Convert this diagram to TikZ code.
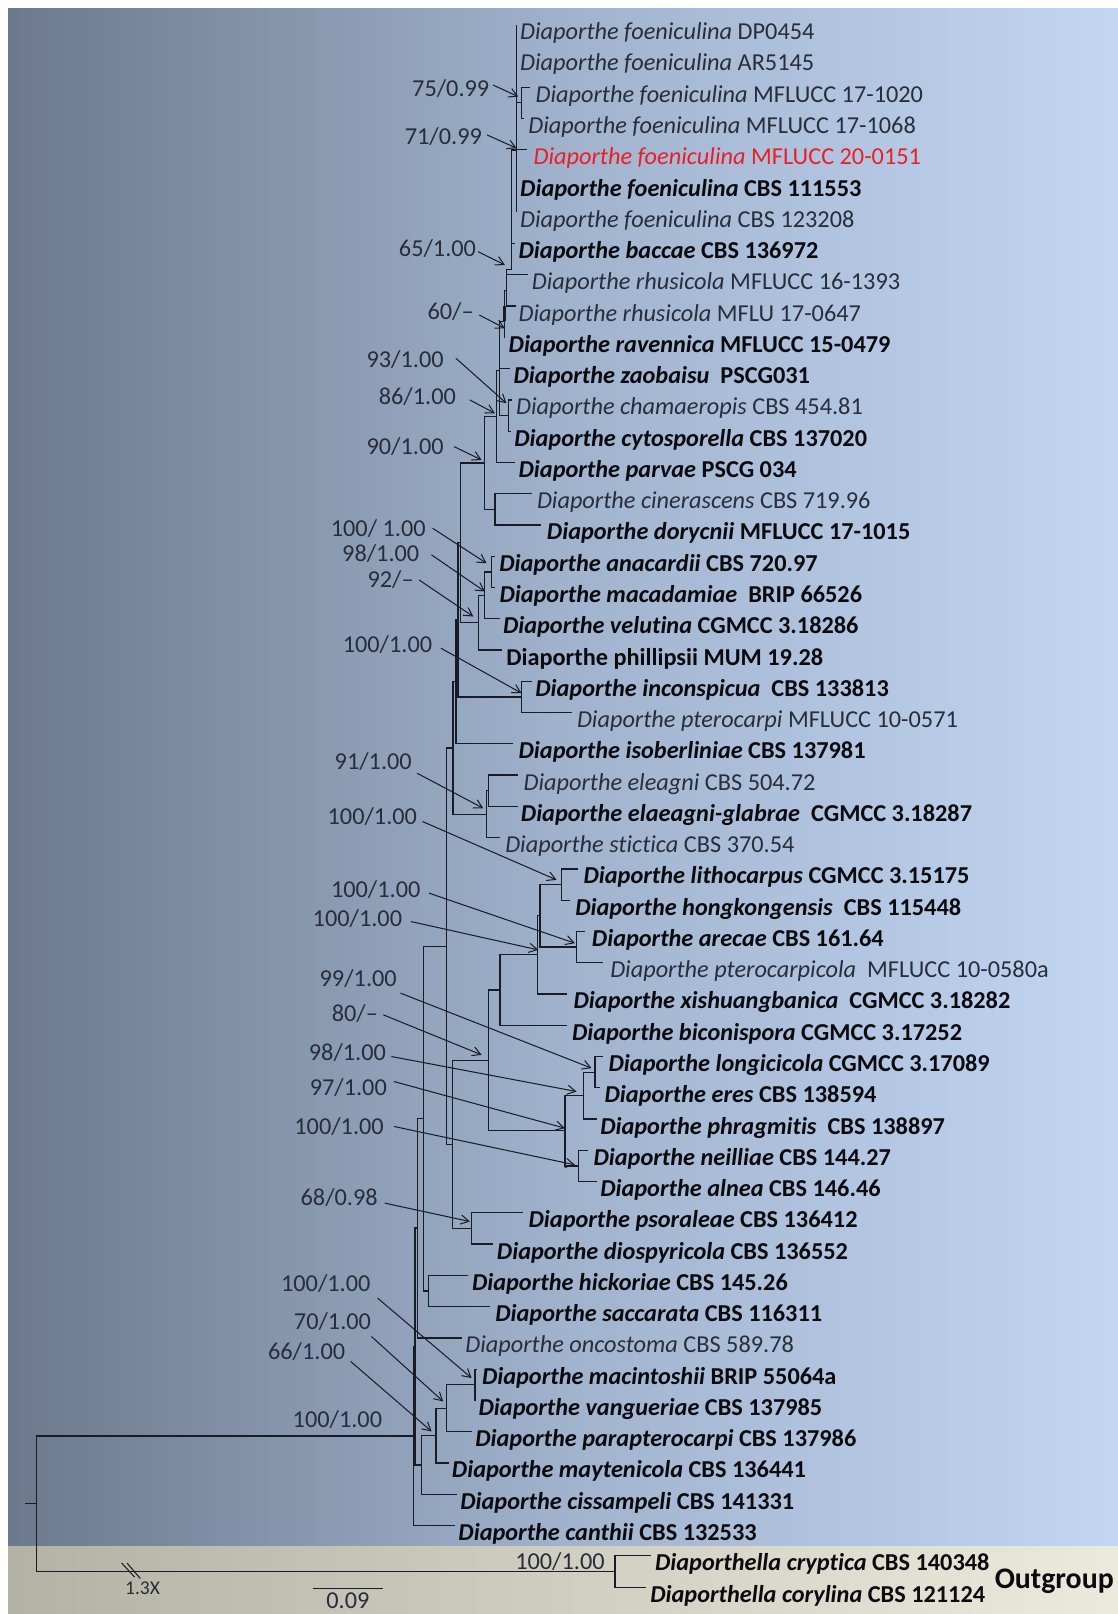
\documentclass[tikz,border=0pt]{standalone}
\usepackage{fontspec}
\setmainfont[Ligatures={NoCommon}]{Carlito}
\usetikzlibrary{arrows.meta,calc}
\definecolor{bgL}{RGB}{108,121,141}
\definecolor{bgM}{RGB}{160,178,204}
\definecolor{bgR}{RGB}{195,214,242}
\definecolor{bandL}{RGB}{180,177,165}
\definecolor{bandR}{RGB}{236,233,221}
\definecolor{lineC}{RGB}{25,28,38}
\definecolor{txtN}{RGB}{40,45,60}
\definecolor{txtB}{RGB}{10,10,15}
\definecolor{redT}{RGB}{235,30,40}
\newcommand\lf[6]{\coordinate (#1) at (#2,#3);\node[#5] (#1t) at (#4,#3+14.6) {#6};}
\newcommand\Dp[1]{\textit{Diaporthe #1}}
\begin{document}
\begin{tikzpicture}[x=0.5pt,y=-0.5pt,
  branch/.style={draw=lineC,line width=0.6pt},
  arr/.style={draw=lineC,line width=0.5pt,-{Straight Barb[length=4pt,width=4.5pt]}},
  leaf/.style={anchor=base west,inner sep=0pt,font=\fontsize{11.8}{14}\selectfont,text=txtN},
  leafb/.style={leaf,font=\fontsize{11.8}{14}\selectfont\bfseries,text=txtB},
  leafr/.style={leaf,text=redT},
  lab/.style={inner sep=0pt,font=\fontsize{11.8}{14}\selectfont,text=txtN,text height=7.6pt,text depth=0pt}]
\useasboundingbox (0,0) rectangle (1086,1568);
\begin{scope}
\clip (0,0) rectangle (1086,1568);
\fill[white] (0,0) rectangle (1086,1568);
\shade[left color=bgL,right color=bgM] (8,8) rectangle (545,1502);
\shade[left color=bgM,right color=bgR] (544.5,8) rectangle (1086,1502);
\shade[left color=bandL,right color=bandR] (8,1502) rectangle (1086,1568);

% ---------- leaves ----------
\lf{l1}{502}{24}{505}{leaf}{\Dp{foeniculina} DP0454}
\lf{l2}{502}{54.375}{505}{leaf}{\Dp{foeniculina} AR5145}
\lf{l3}{515}{84.75}{520}{leaf}{\Dp{foeniculina} MFLUCC 17-1020}
\lf{l4}{509}{115.125}{513}{leaf}{\Dp{foeniculina} MFLUCC 17-1068}
\lf{l5}{512}{145.5}{518}{leafr}{\Dp{foeniculina} MFLUCC 20-0151}
\lf{l6}{502}{175.875}{505}{leafb}{\Dp{foeniculina} CBS 111553}
\lf{l7}{502}{206.25}{505}{leaf}{\Dp{foeniculina} CBS 123208}
\lf{l8}{500}{236.625}{503.5}{leafb}{\Dp{baccae} CBS 136972}
\lf{l9}{513}{267}{516.4}{leaf}{\Dp{rhusicola} MFLUCC 16-1393}
\lf{l10}{501}{297.375}{503.5}{leaf}{\Dp{rhusicola} MFLU 17-0647}
\lf{l11}{491}{327.75}{493.8}{leafb}{\Dp{ravennica} MFLUCC 15-0479}
\lf{l12}{495}{358.125}{498.6}{leafb}{\Dp{zaobaisu}\ \ PSCG031}
\lf{l13}{497}{388.5}{501}{leaf}{\Dp{chamaeropis} CBS 454.81}
\lf{l14}{496}{418.875}{499.3}{leafb}{\Dp{cytosporella} CBS 137020}
\lf{l15}{500}{449.25}{503.5}{leafb}{\Dp{parvae} PSCG 034}
\lf{l16}{516.4}{479.625}{521.3}{leaf}{\Dp{cinerascens} CBS 719.96}
\lf{l17}{526}{510}{531}{leafb}{\Dp{dorycnii} MFLUCC 17-1015}
\lf{l18}{481}{540.375}{484.7}{leafb}{\Dp{anacardii} CBS 720.97}
\lf{l19}{481}{570.75}{484.9}{leafb}{\Dp{macadamiae}\ \ BRIP 66526}
\lf{l20}{485.7}{601.125}{488.3}{leafb}{\Dp{velutina} CGMCC 3.18286}
\lf{l21}{487.5}{631.5}{491.5}{leafb}{Diaporthe phillipsii MUM 19.28}
\lf{l22}{517}{661.875}{519.7}{leafb}{\Dp{inconspicua}\ \ CBS 133813}
\lf{l23}{555.3}{692.25}{560.2}{leaf}{\Dp{pterocarpi} MFLUCC 10-0571}
\lf{l24}{498.6}{722.625}{503.5}{leafb}{\Dp{isoberliniae} CBS 137981}
\lf{l25}{503.5}{753}{508.3}{leaf}{\Dp{eleagni} CBS 504.72}
\lf{l26}{503.5}{783.375}{505.7}{leafb}{\Dp{elaeagni-glabrae}\ \ CGMCC 3.18287}
\lf{l27}{485.7}{813.75}{490.5}{leaf}{\Dp{stictica} CBS 370.54}
\lf{l28}{561.7}{844.125}{566.6}{leafb}{\Dp{lithocarpus} CGMCC 3.15175}
\lf{l29}{554}{874.5}{558.5}{leafb}{\Dp{hongkongensis}\ \ CBS 115448}
\lf{l30}{568.2}{904.875}{574.7}{leafb}{\Dp{arecae} CBS 161.64}
\lf{l31}{586}{935.25}{592.5}{leaf}{\Dp{pterocarpicola}\ \ MFLUCC 10-0580a}
\lf{l32}{550.4}{965.625}{556.9}{leafb}{\Dp{xishuangbanica}\ \ CGMCC 3.18282}
\lf{l33}{550.4}{996}{555.3}{leafb}{\Dp{biconispora} CGMCC 3.17252}
\lf{l34}{586}{1026.375}{590.9}{leafb}{\Dp{longicicola} CGMCC 3.17089}
\lf{l35}{583}{1056.75}{587}{leafb}{\Dp{eres} CBS 138594}
\lf{l36}{579.6}{1087.125}{582.8}{leafb}{\Dp{phragmitis}\ \ CBS 138897}
\lf{l37}{571.5}{1117.5}{576.3}{leafb}{\Dp{neilliae} CBS 144.27}
\lf{l38}{579.6}{1147.875}{582.8}{leafb}{\Dp{alnea} CBS 146.46}
\lf{l39}{508.3}{1178.25}{513.2}{leafb}{\Dp{psoraleae} CBS 136412}
\lf{l40}{479.2}{1208.625}{482.4}{leafb}{\Dp{diospyricola} CBS 136552}
\lf{l41}{454.9}{1239}{458.2}{leafb}{\Dp{hickoriae} CBS 145.26}
\lf{l42}{476}{1269.375}{480.8}{leafb}{\Dp{saccarata} CBS 116311}
\lf{l43}{448.4}{1299.75}{451.7}{leaf}{\Dp{oncostoma} CBS 589.78}
\lf{l44}{463}{1330.125}{467.9}{leafb}{\Dp{macintoshii} BRIP 55064a}
\lf{l45}{462}{1360.5}{464.6}{leafb}{\Dp{vangueriae} CBS 137985}
\lf{l46}{458.2}{1390.875}{461.4}{leafb}{\Dp{parapterocarpi} CBS 137986}
\lf{l47}{436}{1421.25}{438.7}{leafb}{\Dp{maytenicola} CBS 136441}
\lf{l48}{443.6}{1451.625}{446.8}{leafb}{\Dp{cissampeli} CBS 141331}
\lf{l49}{442}{1482}{445}{leafb}{\Dp{canthii} CBS 132533}
\lf{l50}{632}{1511}{636}{leafb}{\textit{Diaporthella cryptica} CBS 140348}
\lf{l51}{628}{1542}{631.4}{leafb}{\textit{Diaporthella corylina} CBS 121124}

% ---------- internal nodes ----------
\coordinate (NF) at (502,146);
\coordinate (N75) at (507,99.9);
\coordinate (N71) at (497,262);
\coordinate (N65) at (492.4,282);
\coordinate (N60) at (490,312);
\coordinate (Ntop) at (485.5,360.2);
\coordinate (Ncham) at (494,403.7);
\coordinate (N86) at (482.4,404.7);
\coordinate (Ncin) at (480.8,494.8);
\coordinate (N90) at (471,449.75);
\coordinate (N100a) at (477.6,555.6);
\coordinate (N98) at (471,578.3);
\coordinate (N92) at (464.6,604.9);
\coordinate (NI) at (447.5,527.3);
\coordinate (Ninc) at (506.7,677.1);
\coordinate (NL) at (445,602.2);
\coordinate (NM) at (443,662.4);
\coordinate (N91) at (474.5,768.2);
\coordinate (Nstic) at (472.7,791);
\coordinate (NN) at (440,726.7);
\coordinate (Nlith) at (545.6,859.3);
\coordinate (Narec) at (560.1,920.1);
\coordinate (NB) at (524.5,889.5);
\coordinate (NC) at (522,927.5);
\coordinate (ND) at (485.7,961.75);
\coordinate (N99) at (578,1041.6);
\coordinate (N98b) at (566.6,1064.4);
\coordinate (N100c) at (561.7,1132.7);
\coordinate (NFf) at (548.8,1098);
\coordinate (NE) at (474.3,1029.9);
\coordinate (N68) at (458.2,1193.4);
\coordinate (NG) at (439.7,1111.7);
\coordinate (NO) at (434,919.2);
\coordinate (Nhs) at (416.1,1254.2);
\coordinate (NP) at (411.2,1086.7);
\coordinate (NQ) at (405.4,1193.1);
\coordinate (N100m) at (461.4,1345.3);
\coordinate (N70) at (433.9,1368.1);
\coordinate (N66) at (423.5,1394.7);
\coordinate (NS) at (409.6,1423.2);
\coordinate (NR) at (403.1,1308.2);
\coordinate (NT) at (401.5,1395.1);
\coordinate (Nout) at (597.4,1526.5);
\coordinate (root) at (35.3,1460.8);
\coordinate (rtick) at (24.5,1460.8);

% ---------- branches ----------
\foreach \p/\c in {NF/l1,NF/l2,NF/N75,NF/l6,NF/l7,N75/l3,N75/l4,
  N71/NF,N71/l5,N71/l8,N65/N71,N65/l9,N65/l10,N60/N65,N60/l11,
  Ntop/N60,Ntop/l12,Ntop/Ncham,Ncham/l13,Ncham/l14,N86/Ntop,N86/l15,
  Ncin/l16,Ncin/l17,N90/N86,N90/Ncin,N100a/l18,N100a/l19,N98/N100a,N98/l20,
  N92/N98,N92/l21,NI/N90,NI/N92,Ninc/l22,Ninc/l23,NL/NI,NL/Ninc,NM/NL,NM/l24,
  N91/l25,N91/l26,Nstic/N91,Nstic/l27,NN/NM,NN/Nstic,
  Nlith/l28,Nlith/l29,Narec/l30,Narec/l31,NB/Nlith,NB/Narec,NC/NB,NC/l32,ND/NC,ND/l33,
  N99/l34,N99/l35,N98b/N99,N98b/l36,N100c/l37,N100c/l38,NFf/N98b,NFf/N100c,
  NE/ND,NE/NFf,N68/l39,N68/l40,NG/NE,NG/N68,NO/NN,NO/NG,Nhs/l41,Nhs/l42,
  NP/NO,NP/Nhs,NQ/NP,NQ/l43,N100m/l44,N100m/l45,N70/N100m,N70/l46,N66/N70,N66/l47,
  NS/N66,NS/l48,NR/NQ,NR/NS,NT/NR,NT/l49,Nout/l50,Nout/l51,root/NT,root/Nout}
  {\draw[branch] (\p) |- (\c);}
\draw[branch] (root) -- (rtick);
\draw[branch,line width=1.3pt] (N60) -- (N60 |- l10);

% ---------- support values ----------
\node[lab] (s1) at (437.9,85.8) {75/0.99};
\node[lab] (s2) at (430.7,132.8) {71/0.99};
\node[lab] (s3) at (425,241.2) {65/1.00};
\node[lab] (s4) at (437.8,302.7) {60/–};
\node[lab] (s5) at (393.6,349.7) {93/1.00};
\node[lab] (s6) at (405.5,385.3) {86/1.00};
\node[lab] (s7) at (393.6,433.9) {90/1.00};
\node[lab] (s8) at (367.5,513.2) {100/ 1.00};
\node[lab] (s9) at (369.9,537.5) {98/1.00};
\node[lab] (s10) at (379.5,563.4) {92/–};
\node[lab] (s11) at (376.4,626.5) {100/1.00};
\node[lab] (s12) at (362.6,739.9) {91/1.00};
\node[lab] (s13) at (361.7,793.3) {100/1.00};
\node[lab] (s14) at (365,864.5) {100/1.00};
\node[lab] (s15) at (347.2,892) {100/1.00};
\node[lab] (s16) at (348,950.3) {99/1.00};
\node[lab] (s17) at (344.8,984.3) {80/–};
\node[lab] (s18) at (337.5,1023.1) {98/1.00};
\node[lab] (s19) at (338.4,1057.1) {97/1.00};
\node[lab] (s20) at (329.4,1094.4) {100/1.00};
\node[lab] (s21) at (329.5,1164) {68/0.98};
\node[lab] (s22) at (316.5,1246.6) {100/1.00};
\node[lab] (s23) at (323,1283.8) {70/1.00};
\node[lab] (s24) at (297.9,1313) {66/1.00};
\node[lab] (s25) at (327.8,1379.3) {100/1.00};
\node[lab] (s26) at (544,1517) {100/1.00};

\coordinate (a1) at (503.5,93.9);
\coordinate (a2) at (501.9,144);
\coordinate (a3) at (490.5,257.4);
\coordinate (a4) at (490.5,319);
\coordinate (a5) at (492,391.8);
\coordinate (a6) at (480.8,401.5);
\coordinate (a7) at (467.9,446.8);
\coordinate (a8) at (472.7,547.2);
\coordinate (a9) at (471.1,574.7);
\coordinate (a10) at (459.8,599);
\coordinate (a11) at (506.7,673.4);
\coordinate (a12) at (469.5,785.2);
\coordinate (a13) at (540.7,854.8);
\coordinate (a14) at (558.5,916.3);
\coordinate (a15) at (522.9,922.8);
\coordinate (a16) at (574.7,1037.7);
\coordinate (a17) at (467.9,1024.8);
\coordinate (a18) at (560.1,1060.4);
\coordinate (a19) at (548.8,1096);
\coordinate (a20) at (558.5,1131.6);
\coordinate (a21) at (456.5,1186.7);
\coordinate (a22) at (458.2,1338.8);
\coordinate (a23) at (430.6,1361.5);
\coordinate (a24) at (419.3,1390.6);

\foreach \s/\dx/\dy in {1/3.3/-3.2,2/4.7/-1.7,3/1.6/3.3,4/5/3.3,5/11.4/-1.7,6/13/3.2,
  7/9.7/0,8/6.3/0,9/11.4/1.5,10/4.8/0,11/8.1/3.2,12/4.8/11.3,13/4.9/4.8,14/8/3.2,
  15/8.3/3.3,16/3.2/14.5,17/4.8/1.6,18/4.9/3.3,19/6.4/-6.4,20/9.7/0,21/6.4/4.8,
  22/6.5/14.5,23/0/14.6,24/4.9/9.6}
  {\draw[arr] ($(s\s.east)+(\dx,\dy)$) -- (a\s);}

% ---------- break, scale, outgroup ----------
\coordinate (bk1a) at (118.2,1518.5); \coordinate (bk1b) at (130.8,1532.1);
\coordinate (bk2a) at (123.4,1518.5); \coordinate (bk2b) at (136.3,1533.5);
\draw[line width=0.5pt,draw=lineC] (bk1a) -- (bk1b);
\draw[line width=0.5pt,draw=lineC] (bk2a) -- (bk2b);
\node[inner sep=0pt,font=\fontsize{9.5}{11}\selectfont,text=txtN] (brk) at (138.5,1543) {1.3X};
\coordinate (sb1) at (304,1543); \coordinate (sb2) at (372,1543);
\draw[branch] (sb1) -- (sb2);
\node[lab] (sbl) at (338,1555) {0.09};
\node[anchor=base west,inner sep=0pt,font=\fontsize{14.5}{16}\selectfont\bfseries,text=txtB] (og) at (966,1543) {Outgroup};
\end{scope}
\end{tikzpicture}
\end{document}
